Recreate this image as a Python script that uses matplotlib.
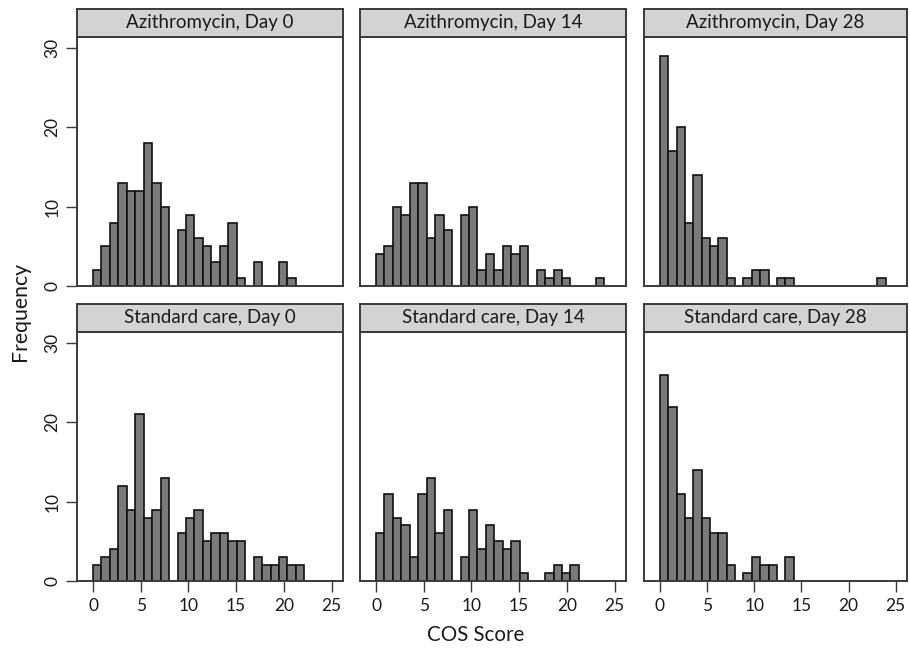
import numpy as np
import matplotlib
matplotlib.use("Agg")
import matplotlib.pyplot as plt

plt.rcParams['font.family'] = ['Lato', 'DejaVu Sans']

# ---- data (bin counts, bin index i covers [i*w, (i+1)*w)) ----
bin_width = 0.886
azi_d0 = [2, 5, 8, 13, 12, 12, 18, 13, 10, 0, 7, 9, 6, 5, 3, 5, 8, 1, 0, 3, 0, 0, 3, 1]
azi_d14 = [4, 5, 10, 9, 13, 13, 6, 9, 7, 0, 9, 10, 2, 4, 2, 5, 4, 5, 0, 2, 1, 2, 1, 0, 0, 0, 1]
azi_d28 = [29, 17, 20, 8, 14, 6, 5, 6, 1, 0, 1, 2, 2, 0, 1, 1, 0, 0, 0, 0, 0, 0, 0, 0, 0, 0, 1]
sc_d0 = [2, 3, 4, 12, 9, 21, 8, 9, 13, 0, 6, 8, 9, 5, 6, 6, 5, 5, 0, 3, 2, 2, 3, 2, 2]
sc_d14 = [6, 11, 8, 7, 3, 11, 13, 6, 9, 0, 3, 9, 4, 7, 5, 4, 5, 1, 0, 0, 1, 2, 1, 2]
sc_d28 = [26, 22, 11, 8, 14, 8, 6, 6, 2, 0, 1, 3, 2, 2, 0, 3]

titles = ["Azithromycin, Day 0", "Azithromycin, Day 14", "Azithromycin, Day 28",
          "Standard care, Day 0", "Standard care, Day 14", "Standard care, Day 28"]
series = [azi_d0, azi_d14, azi_d28, sc_d0, sc_d14, sc_d28]
x_ticks = [0, 5, 10, 15, 20, 25]
y_ticks = [0, 10, 20, 30]

W, H = 910, 651
fig = plt.figure(figsize=(W / 100, H / 100), dpi=100)

col_x = [(77, 343), (360, 626), (644, 907)]
row_y = [(37, 286), (332, 581)]   # (top, bottom) in pixels
strip_h = 28.5

frame_col = '#3a3a3a'
text_col = '#1a1a1a'

for idx, (title, counts) in enumerate(zip(titles, series)):
    r, c = divmod(idx, 3)
    x0, x1 = col_x[c]
    top, bot = row_y[r]
    ax = fig.add_axes([x0 / W, 1 - bot / H, (x1 - x0) / W, (bot - top) / H])
    counts = np.array(counts)
    lefts = np.arange(len(counts)) * bin_width
    mask = counts > 0
    ax.bar(lefts[mask], counts[mask], width=bin_width, align='edge',
           color='#7a7a7a', edgecolor='#111111', linewidth=1.2)
    ax.set_xlim(-1.68, 26.2)
    ax.set_ylim(0, 31.4)
    for s in ax.spines.values():
        s.set_color(frame_col)
        s.set_linewidth(1.4)
    ax.tick_params(length=8, width=1.0, color=frame_col, labelsize=12.5,
                   labelcolor=text_col, pad=4)
    if c == 0:
        ax.set_yticks(y_ticks)
        ax.set_yticklabels([str(v) for v in y_ticks], rotation=90, va='center')
    else:
        ax.set_yticks([])
    if r == 1:
        ax.set_xticks(x_ticks)
        ax.set_xticklabels([str(v) for v in x_ticks])
    else:
        ax.set_xticks([])

    # strip
    sax = fig.add_axes([x0 / W, 1 - top / H, (x1 - x0) / W, strip_h / H])
    sax.set_facecolor('#d3d3d3')
    sax.set_xticks([])
    sax.set_yticks([])
    for s in sax.spines.values():
        s.set_color(frame_col)
        s.set_linewidth(1.4)
    sax.text(0.5, 0.5, title, ha='center', va='center', fontsize=13.5,
             color=text_col, transform=sax.transAxes)

fig.text(20 / W, 1 - 311 / H, "Frequency", rotation=90, ha='center', va='center',
         fontsize=15.3, color=text_col)
fig.text(476 / W, 1 - 635 / H, "COS Score", ha='center', va='center',
         fontsize=14.8, color=text_col)

fig.savefig("out.png", dpi=100, facecolor='white')
